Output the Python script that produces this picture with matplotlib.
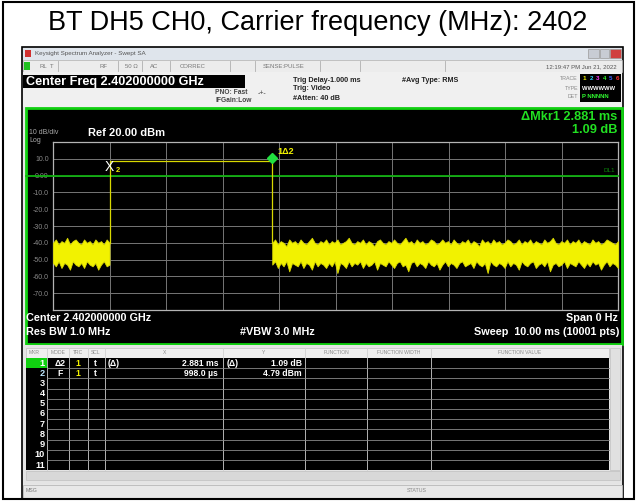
import numpy as np
import matplotlib.pyplot as plt
from matplotlib.patches import Rectangle

W, H = 637, 501
plt.rcParams['font.family'] = ['Liberation Sans', 'DejaVu Sans']

title = "BT DH5 CH0, Carrier frequency (MHz): 2402"

# analyzer settings
sweep_ms = [0, 10]
ref_level = 20
bottom_level = -80
y_ticks = [10, 0, -10, -20, -30, -40, -50, -60, -70]
y_tick_labels = ["10.0", "0.00", "-10.0", "-20.0", "-30.0", "-40.0", "-50.0", "-60.0", "-70.0"]
display_line = 0.0

# burst (pulse on)
pulse_on = 1.00
pulse_off = 3.88
pulse_level = 8.7

# markers
mkr2_t = 0.998
mkr1_dt = 2.881

# noise floor envelope, 0.05 ms steps (dBm)
pre_upper = [-40, -38, -41, -39, -40, -37, -41, -39, -38, -40, -41,
             -38, -40, -39, -41, -38, -40, -39, -41, -38, -40]
pre_lower = [-52, -54, -51, -55, -52, -53, -56, -51, -53, -54, -52,
             -55, -51, -53, -54, -52, -56, -53, -51, -54, -53]
post_upper = [-40, -38, -41, -39, -40, -42, -38, -40, -39, -41,
              -38, -40, -41, -39, -37, -40, -41, -39, -40, -38,
              -41, -39, -40, -38, -41, -40, -39, -37, -40, -41,
              -39, -40, -38, -41, -39, -40, -42, -39, -38, -40,
              -41, -39, -40, -38, -40, -41, -39, -37, -40, -39,
              -41, -38, -40, -39, -41, -40, -38, -39, -41, -40,
              -38, -40, -39, -41, -38, -40, -41, -39, -40, -38,
              -41, -39, -40, -42, -38, -40, -39, -41, -38, -40,
              -39, -41, -40, -38, -39, -41, -40, -38, -41, -39,
              -40, -38, -41, -39, -40, -41, -38, -40, -39, -37,
              -40, -41, -39, -40, -38, -41, -39, -40, -38, -41,
              -39, -40, -41, -38, -40, -39, -41, -40, -38, -39,
              -40, -41, -39]
post_lower = [-53, -51, -55, -52, -54, -51, -57, -52, -53, -54,
              -51, -55, -52, -53, -56, -51, -54, -52, -53, -55,
              -52, -54, -51, -58, -52, -53, -55, -51, -54, -52,
              -53, -51, -55, -52, -54, -53, -51, -56, -52, -53,
              -54, -51, -53, -55, -52, -51, -54, -53, -57, -52,
              -51, -54, -52, -53, -55, -51, -53, -54, -52, -56,
              -53, -51, -54, -52, -53, -55, -52, -51, -54, -53,
              -52, -55, -51, -53, -54, -52, -58, -51, -53, -54,
              -52, -53, -55, -51, -54, -52, -53, -56, -51, -53,
              -54, -52, -51, -55, -53, -52, -54, -51, -57, -53,
              -52, -54, -53, -51, -55, -52, -53, -54, -51, -53,
              -55, -52, -54, -51, -53, -52, -56, -53, -51, -54,
              -52, -53, -55]

# marker table
tbl_headers = ["MKR", "MODE", "TRC", "SCL", "X", "Y", "FUNCTION", "FUNCTION WIDTH", "FUNCTION VALUE"]
tbl_mode = ["\u03942", "F"]
tbl_x = ["2.881 ms", "998.0 \u00b5s"]
tbl_y = ["1.09 dB", "4.79 dBm"]
tbl_xpre = ["(\u0394)", ""]
tbl_ypre = ["(\u0394)", ""]

YEL = '#f2f200'
GRN = '#22e022'


def fx(x):
    return x / W


def fy(y):
    return 1 - y / H


def box(fig, x0, y0, x1, y1, fc, ec='none', lw=0.8, z=1):
    fig.add_artist(Rectangle((fx(x0), fy(y1)), (x1 - x0) / W, (y1 - y0) / H,
                             transform=fig.transFigure, fc=fc, ec=ec, lw=lw, zorder=z))


def txt(fig, x, y, s, size=6, color='#333333', ha='left', weight='bold', z=5):
    fig.text(fx(x), fy(y), s, fontsize=size, color=color, ha=ha, va='center',
             fontweight=weight, zorder=z)


fig = plt.figure(figsize=(W / 100, H / 100), dpi=100)
fig.patch.set_facecolor('white')

# outer frame + title
box(fig, 3, 2, 634, 499, 'none', ec='black', lw=1.5, z=20)
fig.text(fx(318), fy(23), title, fontsize=19.5, ha='center', va='center', color='black')

# screenshot chrome
box(fig, 22, 47, 623, 499, '#e6e6e6', ec='black', lw=1.2, z=1)
box(fig, 23, 48, 622, 60, '#dfe5ec', z=2)
box(fig, 25, 50, 31, 57, '#d03030', z=3)
txt(fig, 35, 54, "Keysight Spectrum Analyzer - Swept SA", 4.5, '#555555', weight='normal')
box(fig, 588, 49, 599, 58, '#c8ccd4', ec='#9a9a9a', lw=0.5, z=3)
box(fig, 600, 49, 609, 58, '#c8ccd4', ec='#9a9a9a', lw=0.5, z=3)
box(fig, 610, 49, 621, 58, '#d04040', ec='#9a9a9a', lw=0.5, z=3)

box(fig, 23, 60, 622, 72, '#ececec', ec='#b0b0b0', lw=0.5, z=2)
box(fig, 24, 62, 30, 70, '#20c020', z=3)
for sx in [58, 118, 142, 170, 230, 255, 320, 360, 445]:
    fig.add_artist(plt.Line2D([fx(sx), fx(sx)], [fy(61), fy(71)], transform=fig.transFigure,
                              color='#b0b0b0', lw=0.6, zorder=3))
for sx, s in [(40, "RL"), (50, "T"), (100, "RF"), (125, "50 \u03a9"), (150, "AC"), (180, "CORREC"),
              (263, "SENSE:PULSE")]:
    txt(fig, sx, 66, s, 4.3, '#777777', weight='normal')
txt(fig, 617, 67, "12:19:47 PM Jun 21, 2022", 4.3, '#555555', ha='right', weight='normal')

box(fig, 23, 72, 622, 107, '#f0f0f0', z=2)
box(fig, 23, 75, 245, 88, 'black', z=3)
txt(fig, 26, 82, "Center Freq 2.402000000 GHz", 9.1, 'white')
txt(fig, 215, 93, "PNO: Fast", 4.8, '#444444')
txt(fig, 258, 93, "-+-", 5, '#444444', weight='normal')
txt(fig, 215, 101, "IFGain:Low", 4.8, '#444444')
txt(fig, 293, 80, "Trig Delay-1.000 ms", 5.2, '#222222')
txt(fig, 293, 89, "Trig: Video", 5.2, '#222222')
txt(fig, 293, 98, "#Atten: 40 dB", 5.2, '#222222')
txt(fig, 402, 80, "#Avg Type: RMS", 5.2, '#222222')
txt(fig, 578, 79, "TRACE", 3.8, '#888888', ha='right', weight='normal')
txt(fig, 578, 88, "TYPE", 3.8, '#888888', ha='right', weight='normal')
txt(fig, 578, 97, "DET", 3.8, '#888888', ha='right', weight='normal')
box(fig, 580, 74, 621, 102, 'black', z=3)
for k, c in enumerate(['#f2f200', '#30d0ff', '#ff40ff', '#30ff30', '#4060ff', '#ff3030']):
    txt(fig, 583 + 6.5 * k, 79, str(k + 1), 4.5, c)
txt(fig, 582, 88, "WWWWWW", 4.2, 'white')
txt(fig, 582, 97, "P NNNNN", 4.2, '#30ff30')

# display area
box(fig, 26, 108, 622, 344, 'black', ec='#10d010', lw=2.0, z=2)
txt(fig, 617, 117, "\u0394Mkr1 2.881 ms", 9.2, GRN, ha='right')
txt(fig, 617, 130, "1.09 dB", 9.2, GRN, ha='right')
txt(fig, 29, 133, "10 dB/div", 5, '#aaaaaa', weight='normal')
txt(fig, 29, 141, "Log", 5, '#aaaaaa', weight='normal')
txt(fig, 88, 133, "Ref 20.00 dBm", 8, 'white')
txt(fig, 26, 318, "Center 2.402000000 GHz", 7.8, 'white')
txt(fig, 618, 318, "Span 0 Hz", 7.8, 'white', ha='right')
txt(fig, 26, 332, "Res BW 1.0 MHz", 7.8, 'white')
txt(fig, 240, 332, "#VBW 3.0 MHz", 7.8, 'white')
txt(fig, 619, 332, "Sweep  10.00 ms (10001 pts)", 7.8, 'white', ha='right')

ax = fig.add_axes([fx(53), fy(310), 565 / W, 168 / H], zorder=10)
ax.set_facecolor('black')
ax.set_xlim(*sweep_ms)
ax.set_ylim(bottom_level, ref_level)
ax.set_xticks(np.arange(sweep_ms[0], sweep_ms[1] + 1, 1))
ax.set_xticklabels([])
ax.set_yticks(y_ticks, y_tick_labels)
ax.tick_params(length=0, labelsize=5, labelcolor='#8a8a8a', pad=3)
ax.grid(True, color='#767676', lw=0.7)
for sp in ax.spines.values():
    sp.set_color('#b4b4b4')
    sp.set_linewidth(0.9)

ax.axhline(display_line, xmin=-0.047, xmax=1.0, color='#10b010', lw=1.3, clip_on=False, zorder=3)
ax.text(0.995, display_line + 1.5, "DL1", color='#0c8a0c', fontsize=4.5, ha='right', va='bottom',
        transform=ax.get_yaxis_transform())

pre_t = np.linspace(sweep_ms[0], pulse_on, len(pre_upper))
post_t = np.linspace(pulse_off, sweep_ms[1], len(post_upper))
ax.fill_between(pre_t, pre_lower, pre_upper, color=YEL, lw=0.6, ec='#d8d800', zorder=4)
ax.fill_between(post_t, post_lower, post_upper, color=YEL, lw=0.6, ec='#d8d800', zorder=4)
ax.plot([pulse_on, pulse_on, pulse_off, pulse_off],
        [pre_upper[-1], pulse_level, pulse_level, post_upper[0]], color='#d8d800', lw=0.9, zorder=4)

mkr1_t = mkr2_t + mkr1_dt
ax.annotate("X", (mkr2_t, pulse_level), xytext=(0, -4), textcoords='offset points',
            color='white', fontsize=10, ha='center', va='center', zorder=6)
ax.annotate("2", (mkr2_t, pulse_level), xytext=(6, -7), textcoords='offset points',
            color=YEL, fontsize=5.5, fontweight='bold', ha='center', va='center', zorder=6)
ax.plot([mkr1_t], [pulse_level + 2], marker='D', ms=5, color='#20e040', zorder=6)
ax.annotate("1\u03942", (mkr1_t, pulse_level), xytext=(4, 7), textcoords='offset points',
            color=YEL, fontsize=6.5, fontweight='bold', ha='left', va='center', zorder=6)

# marker table
box(fig, 23, 345, 622, 484, '#e4e4e4', z=2)
box(fig, 26, 348, 609, 358, '#efefef', ec='#c0c0c0', lw=0.5, z=3)
box(fig, 26, 358, 609, 470, 'black', z=3)
box(fig, 26, 358, 47, 368, '#10d010', z=4)
col_lines = [47, 69, 88, 105, 223, 305, 367, 431]
for cx in col_lines:
    fig.add_artist(plt.Line2D([fx(cx), fx(cx)], [fy(348), fy(470)], transform=fig.transFigure,
                              color='#d0d0d0', lw=0.6, zorder=5))
for i in range(1, 11):
    yy = 358 + 10.2 * i
    fig.add_artist(plt.Line2D([fx(47), fx(609)], [fy(yy), fy(yy)], transform=fig.transFigure,
                              color='#8a8a8a', lw=0.6, zorder=5))
hx = [34, 58, 78, 96, 165, 264, 336, 399, 520]
for x0, h in zip(hx, tbl_headers):
    txt(fig, x0, 353, h, 3.6, '#8a8a8a', ha='center', weight='normal', z=6)
for i in range(11):
    yy = 363 + 10.2 * i
    txt(fig, 45, yy, str(i + 1), 6.6, 'white' if i != 1 else '#bfe8ff', ha='right', z=6)
for i in range(len(tbl_mode)):
    yy = 363 + 10.2 * i
    txt(fig, 60, yy, tbl_mode[i], 6.2, 'white', ha='center', z=6)
    txt(fig, 78, yy, "1", 6.2, YEL, ha='center', z=6)
    txt(fig, 95, yy, "t", 6.2, 'white', ha='center', z=6)
    txt(fig, 108, yy, tbl_xpre[i], 6.2, 'white', z=6)
    txt(fig, 218, yy, tbl_x[i], 6.2, 'white', ha='right', z=6)
    txt(fig, 227, yy, tbl_ypre[i], 6.2, 'white', z=6)
    txt(fig, 302, yy, tbl_y[i], 6.2, 'white', ha='right', z=6)
box(fig, 610, 348, 620, 470, '#e0e0e0', ec='#c0c0c0', lw=0.5, z=3)
box(fig, 26, 471, 620, 480, '#d8d8d8', ec='#c0c0c0', lw=0.5, z=3)

# status bar
box(fig, 23, 485, 622, 498, '#e8e8e8', ec='#b8b8b8', lw=0.6, z=2)
txt(fig, 26, 491, "MSG", 3.8, '#777777', weight='normal')
txt(fig, 407, 491, "STATUS", 3.8, '#888888', weight='normal')

fig.savefig('out.png', dpi=100)
